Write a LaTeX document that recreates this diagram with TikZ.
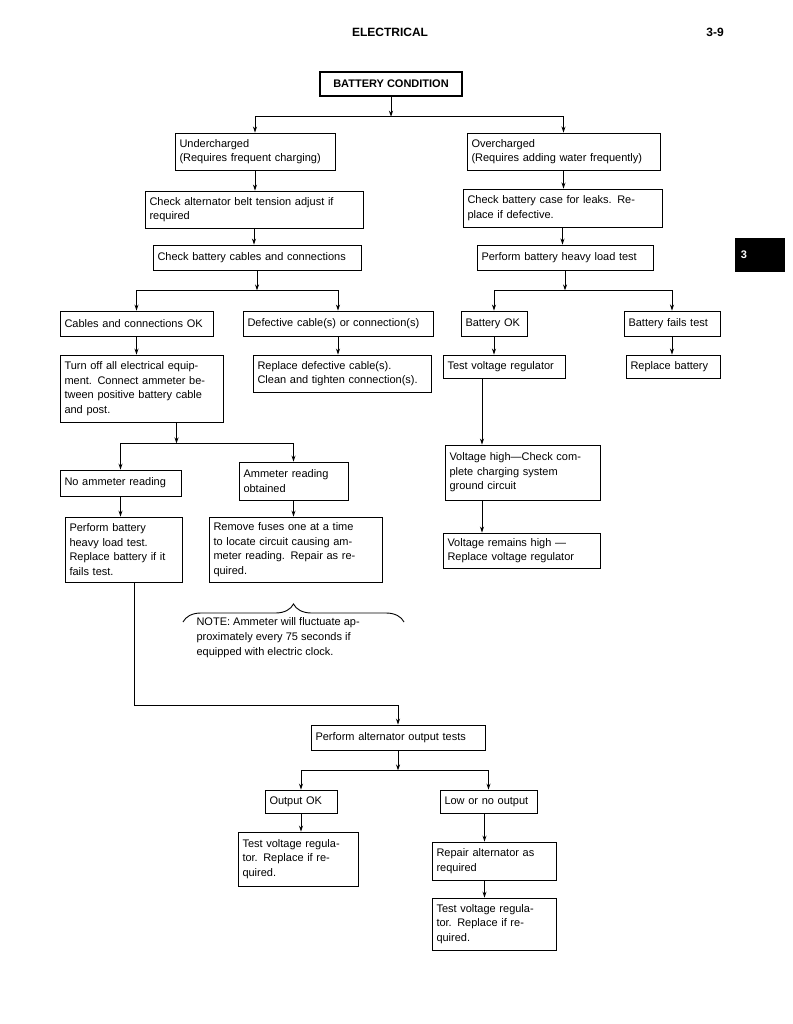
\documentclass[tikz,border=0pt]{standalone}
\usepackage{fontspec}
\setmainfont{Liberation Sans}
\usetikzlibrary{arrows.meta,decorations.pathreplacing}
\tikzset{
 bx/.style={draw,line width=0.9pt,align=left,inner sep=4pt,font=\fontsize{11}{14.5}\selectfont},
 ar/.style={line width=0.9pt,-{Stealth[length=6pt,width=4pt]}},
 ln/.style={line width=0.9pt}
}
\newcommand\bx[6]{%
 \pgfmathsetmacro\bw{#4-#2}\pgfmathsetmacro\bh{#5-#3}\pgfmathsetmacro\tw{#4-#2-9}%
 \node[bx,minimum width=\bw pt,minimum height=\bh pt,text width=\tw pt] (#1) at ({(#2+#4)/2},{(#3+#5)/2}) {#6};}
\begin{document}
\begin{tikzpicture}[x=1pt,y=-1pt]
\useasboundingbox (0,0) rectangle (792,1024);
\node (hd) at (390,32) {\fontsize{12}{14}\selectfont\bfseries ELECTRICAL};
\node (pg) at (715,32) {\fontsize{12}{14}\selectfont\bfseries 3-9};
\fill (735,238) rectangle (785,272);
\node[text=white] (tab) at (744,255) {\fontsize{11}{13}\selectfont\bfseries 3};
\node[draw,line width=1.5pt,minimum width=142pt,minimum height=24pt,font=\fontsize{11}{13}\selectfont\bfseries] (bc) at (391,84) {BATTERY CONDITION};
\bx{uc}{175}{133}{335}{170}{Undercharged\\(Requires frequent charging)}
\bx{oc}{467}{133}{660}{170}{Overcharged\\(Requires adding water frequently)}
\bx{cab}{145}{191}{363}{228}{Check alternator belt tension adjust if\\required}
\bx{cbc}{463}{189}{662}{227}{Check battery case for leaks. Re-\\place if defective.}
\bx{cc}{153}{245}{361}{270}{Check battery cables and connections}
\bx{hl}{477}{245}{653}{270}{Perform battery heavy load test}
\bx{cok}{60}{311}{213}{336}{Cables and connections OK}
\bx{def}{243}{311}{433}{336}{Defective cable(s) or connection(s)}
\bx{bok}{461}{311}{527}{336}{Battery OK}
\bx{bf}{624}{311}{720}{336}{Battery fails test}
\bx{to}{60}{355}{223}{422}{Turn off all electrical equip-\\ment. Connect ammeter be-\\tween positive battery cable\\and post.}
\bx{rd}{253}{355}{431}{392}{Replace defective cable(s).\\Clean and tighten connection(s).}
\bx{tvr}{443}{355}{565}{378}{Test voltage regulator}
\bx{rb}{626}{355}{720}{378}{Replace battery}
\bx{vh}{445}{445}{600}{500}{Voltage high---Check com-\\plete charging system\\ground circuit}
\bx{vr}{443}{533}{600}{568}{Voltage remains high ---\\Replace voltage regulator}
\bx{na}{60}{470}{181}{496}{No ammeter reading}
\bx{ao}{239}{462}{348}{500}{Ammeter reading\\obtained}
\bx{pb}{65}{517}{182}{582}{Perform battery\\heavy load test.\\Replace battery if it\\fails test.}
\bx{rf}{209}{517}{382}{582}{Remove fuses one at a time\\to locate circuit causing am-\\meter reading. Repair as re-\\quired.}
\draw[ln,decorate,decoration={brace,amplitude=18pt}] (183,622) -- (404,622);
\node[align=left,font=\fontsize{11}{15}\selectfont,anchor=north west] (note) at (193,614) {NOTE: Ammeter will fluctuate ap-\\proximately every 75 seconds if\\equipped with electric clock.};
\bx{pat}{311}{725}{485}{750}{Perform alternator output tests}
\bx{ook}{265}{790}{337}{813}{Output OK}
\bx{low}{440}{790}{537}{813}{Low or no output}
\bx{tv1}{238}{832}{358}{886}{Test voltage regula-\\tor. Replace if re-\\quired.}
\bx{ra}{432}{842}{556}{880}{Repair alternator as\\required}
\bx{tv2}{432}{898}{556}{950}{Test voltage regula-\\tor. Replace if re-\\quired.}
% buses
\draw[ar] (bc.south) -- ++(0,20) coordinate (j1);
\draw[ar] (j1) -| (uc.north);
\draw[ar] (j1) -| (oc.north);
\draw[ar] (uc.south) -- (uc.south |- cab.north);
\draw[ar] (cab.south) -- (cab.south |- cc.north);
\draw[ar] (oc.south) -- (oc.south |- cbc.north);
\draw[ar] (cbc.south) -- (cbc.south |- hl.north);
\draw[ar] (cc.south) -- ++(0,20) coordinate (j2);
\draw[ar] (j2) -| (cok.north);
\draw[ar] (j2) -| (def.north);
\draw[ar] (hl.south) -- ++(0,20) coordinate (j3);
\draw[ar] (j3) -| (bok.north);
\draw[ar] (j3) -| (bf.north);
\draw[ar] (cok.south) -- (cok.south |- to.north);
\draw[ar] (def.south) -- (def.south |- rd.north);
\draw[ar] (bok.south) -- (bok.south |- tvr.north);
\draw[ar] (bf.south) -- (bf.south |- rb.north);
\draw[ar] ([xshift=-22pt]tvr.south) -- ([xshift=-22pt]tvr.south |- vh.north) coordinate (x1);
\draw[ar] (x1 |- vh.south) -- (x1 |- vr.north);
\draw[ar] ([xshift=35pt]to.south) -- ++(0,21) coordinate (j4);
\draw[ar] (j4) -| (na.north);
\draw[ar] (j4) -| (ao.north);
\draw[ar] (na.south) -- (na.south |- pb.north);
\draw[ar] (ao.south) -- (ao.south |- rf.north);
\draw[ar] ([xshift=11pt]pb.south) -- ++(0,123) -| (pat.north);
\draw[ar] (pat.south) -- ++(0,20) coordinate (j5);
\draw[ar] (j5) -| (ook.north);
\draw[ar] (j5) -| (low.north);
\draw[ar] (ook.south) -- (ook.south |- tv1.north);
\draw[ar] ([xshift=-4pt]low.south) -- ([xshift=-4pt]low.south |- ra.north) coordinate (x2);
\draw[ar] (x2 |- ra.south) -- (x2 |- tv2.north);
\end{tikzpicture}
\end{document}
